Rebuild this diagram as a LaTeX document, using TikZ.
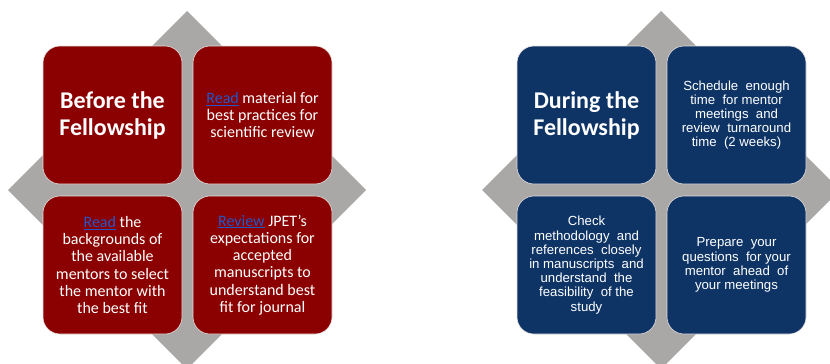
\documentclass[tikz,border=0pt]{standalone}
\usepackage{fontspec}
\setmainfont{Carlito}
\newfontfamily\arialfont{Liberation Sans}
\usepackage{xcolor}
\usepackage{tikz}
\usetikzlibrary{positioning}
\definecolor{rouge}{HTML}{8B0000}
\definecolor{bleu}{HTML}{0E3466}
\definecolor{gris}{HTML}{AAA7A7}
\definecolor{bord}{HTML}{E6E0E0}
\definecolor{lien}{HTML}{2358C8}
\newcommand{\lien}[1]{\textcolor{lien}{\underline{#1}}}

\begin{document}
\begin{tikzpicture}[x=1pt, y=-1pt,
    carre/.style={draw=bord, line width=0.6pt, rounded corners=17pt,
      minimum width=139pt, minimum height=138pt, inner sep=0pt,
      text=white, align=center},
    titre/.style={font=\fontsize{24}{27}\selectfont\bfseries},
    texte/.style={font=\fontsize{16}{17.3}\selectfont},
    texteb/.style={font=\arialfont\fontsize{13.2}{14.2}\selectfont}]
    \useasboundingbox (0,0) rectangle (830,364);
    \clip (0,0) rectangle (830,364);

    % Losanges
    \fill[gris] (187,11) -- (366,190) -- (187,369) -- (8,190) -- cycle;
    \fill[gris] (661,11) -- (840,190) -- (661,369) -- (482,190) -- cycle;

    % Avant
    \node[carre, fill=rouge, titre] (avant) at (112.5,115) {Before the\\Fellowship};
    \node[carre, fill=rouge, texte] (lire) at (262.5,115)
      {\lien{Read} material for\\best practices for\\scientific review};
    \node[carre, fill=rouge, texte] (mentor) at (112.5,265)
      {\lien{Read} the\\backgrounds of\\the available\\mentors to select\\the mentor with\\the best fit};
    \node[carre, fill=rouge, texte] (revue) at (262.5,265)
      {\lien{Review} JPET’s\\expectations for\\accepted\\manuscripts to\\understand best\\fit for journal};

    % Pendant
    \node[carre, fill=bleu, titre] (pendant) at (586.5,115) {During the\\Fellowship};
    \node[carre, fill=bleu, texteb] (planning) at (736.5,115)
      {Schedule \ enough\\time \ for mentor\\meetings \ and\\review \ turnaround\\time \ (2 weeks)};
    \node[carre, fill=bleu, texteb] (methode) at (586.5,265)
      {Check\\methodology \ and\\references \ closely\\in manuscripts \ and\\understand \ the\\feasibility \ of the\\study};
    \node[carre, fill=bleu, texteb] (questions) at (736.5,265)
      {Prepare \ your\\questions \ for your\\mentor \ ahead \ of\\your meetings};
  \end{tikzpicture}
\end{document}
